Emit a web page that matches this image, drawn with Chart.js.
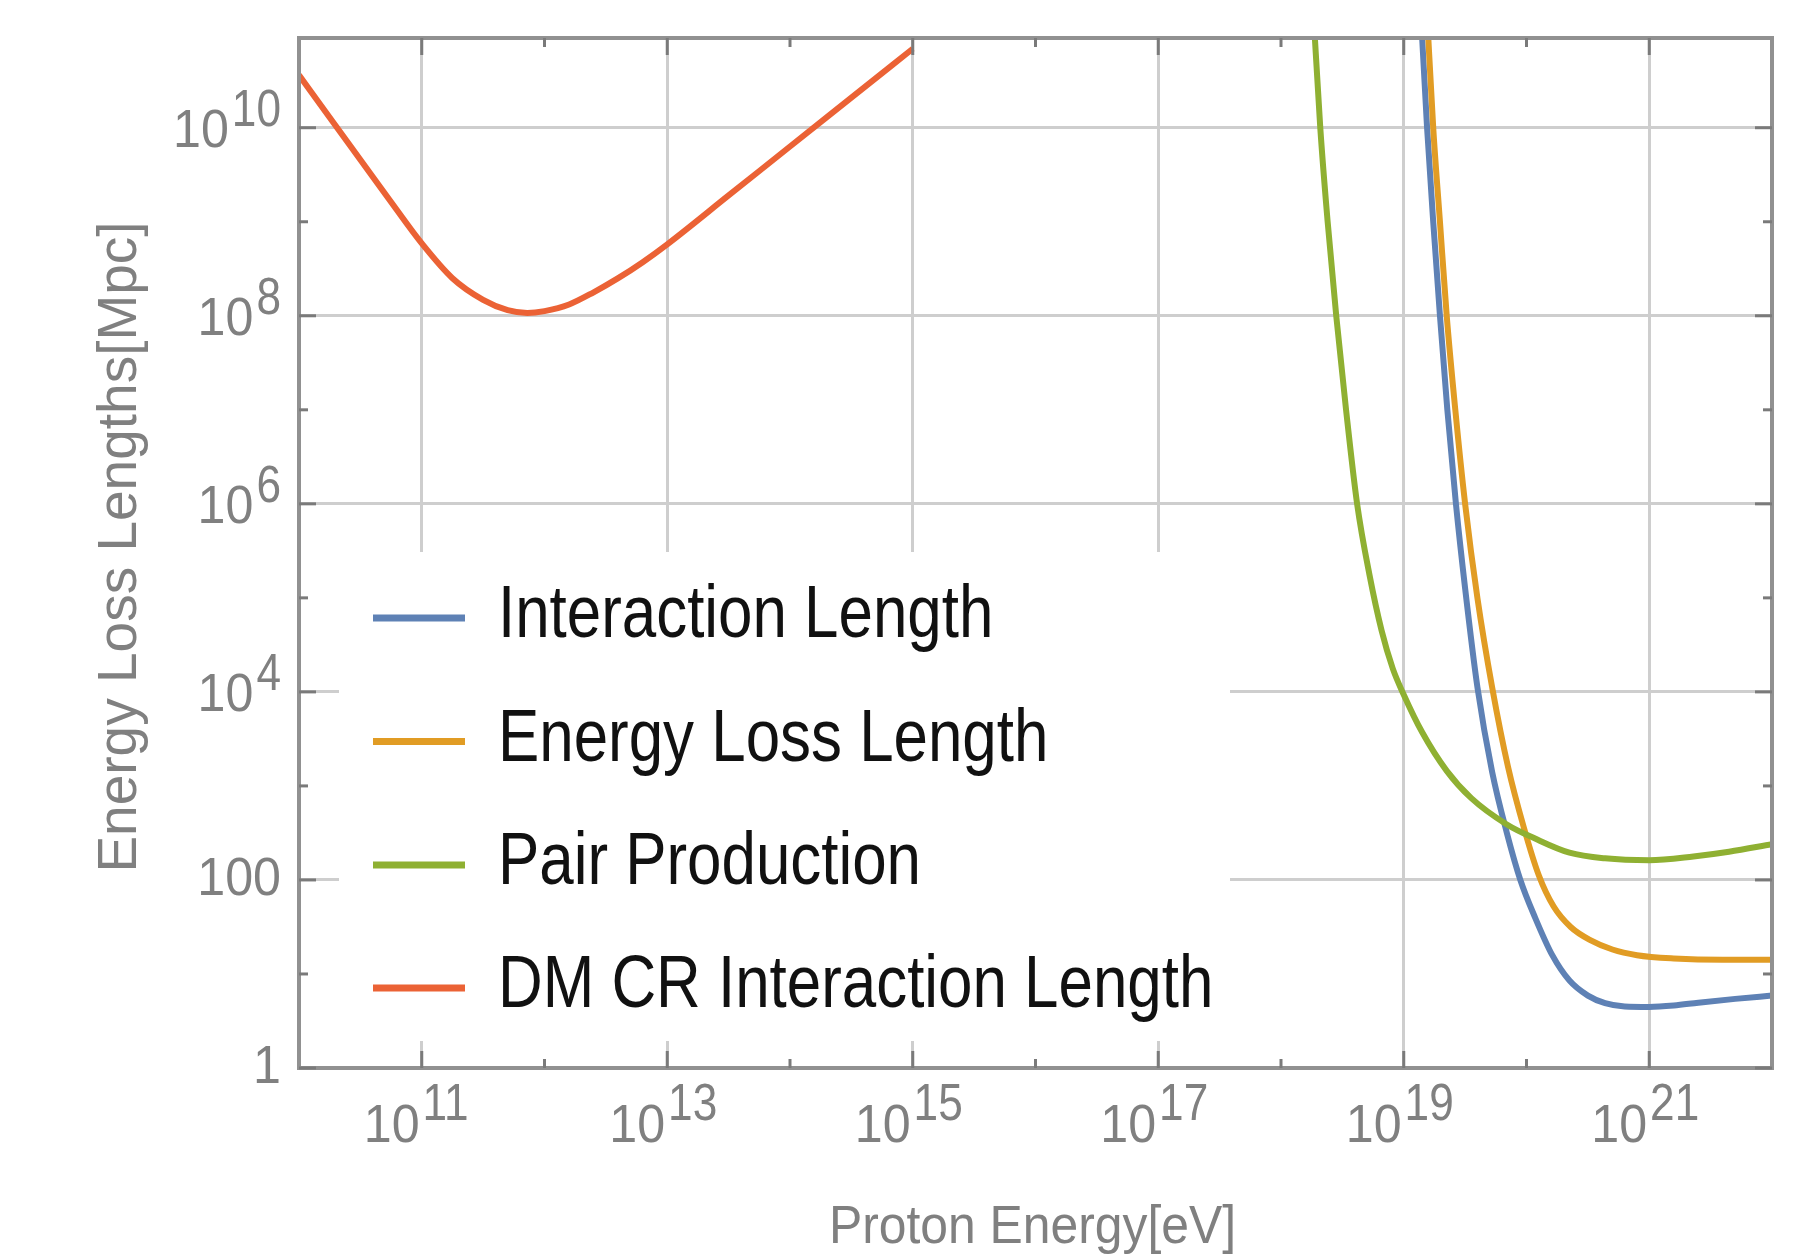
<!DOCTYPE html>
<html>
<head>
<meta charset="utf-8">
<script src="https://cdn.jsdelivr.net/npm/chart.js@4.4.1/dist/chart.umd.min.js"></script>
<style>
html,body{margin:0;padding:0;background:#ffffff;}
canvas{display:block;}
</style>
</head>
<body>
<canvas id="c" width="1806" height="1254"></canvas>
<script>
// ---------------- data ----------------
const seriesNames = ['Interaction Length', 'Energy Loss Length', 'Pair Production', 'DM CR Interaction Length'];
const seriesColors = ['#5E81B5', '#E19C24', '#8FB032', '#EB6235'];

const energyInteraction = [1.380e19, 1.549e19, 1.738e19, 1.972e19, 2.265e19, 2.661e19, 3.162e19, 3.981e19, 5.248e19, 6.918e19, 8.913e19, 1.175e20, 1.622e20, 2.239e20, 3.162e20, 4.365e20, 6.310e20, 1e21, 1.585e21, 2.512e21, 5.012e21, 1e22];
const lengthInteraction = [1.585e11, 1e10, 1e9, 1e8, 1e7, 1e6, 1.259e5, 1.122e4, 1413, 316.2, 100, 39.81, 15.85, 8.511, 5.888, 4.898, 4.519, 4.467, 4.624, 4.955, 5.433, 5.888];

const energyLoss = [1.549e19, 1.738e19, 1.972e19, 2.239e19, 2.630e19, 3.162e19, 3.981e19, 5.248e19, 7.079e19, 9.550e19, 1.259e20, 1.660e20, 2.291e20, 3.311e20, 5.012e20, 7.943e20, 1.585e21, 3.981e21, 1e22];
const lengthLoss = [1.585e11, 1e10, 1e9, 1e8, 1e7, 1e6, 1e5, 1.122e4, 1585, 354.8, 112.2, 52.48, 31.62, 22.91, 18.20, 15.85, 14.62, 14.13, 14.13];

const energyPair = [1.841e18, 2.089e18, 2.399e18, 2.818e18, 3.388e18, 4.169e18, 5.248e18, 6.607e18, 8.128e18, 1e19, 1.413e19, 2.239e19, 3.548e19, 6.918e19, 1.175e20, 2.239e20, 4.365e20, 1e21, 2.291e21, 4.467e21, 1e22];
const lengthPair = [1.585e11, 1e10, 1e9, 1e8, 1e7, 1e6, 1.778e5, 4.467e4, 1.778e4, 9333, 3715, 1445, 741.3, 389.0, 275.4, 195.0, 169.8, 162.2, 177.8, 199.5, 239.9];

const energyDM = [1e10, 1.778e10, 3.162e10, 5.623e10, 1e11, 1.778e11, 3.162e11, 5.012e11, 7.244e11, 1e12, 1.585e12, 2.512e12, 3.981e12, 6.310e12, 1e13, 3.162e13, 1e14, 3.162e14, 1e15];
const lengthDM = [3.631e10, 1.288e10, 4.571e9, 1.622e9, 5.888e8, 2.512e8, 1.479e8, 1.148e8, 1.072e8, 1.122e8, 1.318e8, 1.778e8, 2.512e8, 3.715e8, 5.754e8, 1.905e9, 6.310e9, 2.089e10, 6.918e10];

// axes
const xMin = 1e10, xMax = 1e22;
const yMin = 1, yMax = 9e10;
const xMajorTicks = [1e11, 1e13, 1e15, 1e17, 1e19, 1e21];
const xMinorTicks = [1e12, 1e14, 1e16, 1e18, 1e20];
const xTickBase = ['10', '10', '10', '10', '10', '10'];
const xTickSup = ['11', '13', '15', '17', '19', '21'];
const yMajorTicks = [1, 100, 1e4, 1e6, 1e8, 1e10];
const yMinorTicks = [10, 1e3, 1e5, 1e7, 1e9];
const yTickBase = ['1', '100', '10', '10', '10', '10'];
const yTickSup = ['', '', '4', '6', '8', '10'];
const xTitle = 'Proton Energy[eV]';
const yTitle = 'Energy Loss Lengths[Mpc]';

// ---------------- helpers ----------------
const FONT = '"Liberation Sans", Arimo, Arial, sans-serif';
const labelColor = '#808080';

function toPoints(xs, ys) { return xs.map((x, i) => ({ x: x, y: ys[i] })); }

function drawText(ctx, text, x, y, size, sx, align, color) {
  ctx.save();
  ctx.font = size + 'px ' + FONT;
  ctx.fillStyle = color;
  ctx.textBaseline = 'alphabetic';
  ctx.textAlign = 'left';
  const w = ctx.measureText(text).width * sx;
  const x0 = align === 'right' ? x - w : (align === 'center' ? x - w / 2 : x);
  ctx.translate(x0, y);
  ctx.scale(sx, 1);
  ctx.fillText(text, 0, 0);
  ctx.restore();
  return w;
}
function seg(ctx, x1, y1, x2, y2) {
  ctx.beginPath(); ctx.moveTo(x1, y1); ctx.lineTo(x2, y2); ctx.stroke();
}

const legendBox = { left: 339, top: 552, right: 1230, bottom: 1041 };

const decorPlugin = {
  id: 'decor',
  beforeDatasetsDraw(chart) {
    const ctx = chart.ctx;
    ctx.save();
    ctx.fillStyle = '#ffffff';
    ctx.fillRect(legendBox.left, legendBox.top, legendBox.right - legendBox.left, legendBox.bottom - legendBox.top);
    ctx.restore();
  },
  afterDatasetsDraw(chart) {
    const ctx = chart.ctx;
    const a = chart.chartArea;
    const xs = chart.scales.x, ys = chart.scales.y;
    ctx.save();
    // frame
    ctx.strokeStyle = '#919191';
    ctx.lineWidth = 4;
    ctx.strokeRect(a.left, a.top, a.right - a.left, a.bottom - a.top);
    // inward ticks
    ctx.strokeStyle = '#7a7a7a';
    ctx.lineWidth = 3;
    const MAJ = 17, MIN = 9;
    xMajorTicks.forEach(v => { const p = xs.getPixelForValue(v); seg(ctx, p, a.bottom, p, a.bottom - MAJ); seg(ctx, p, a.top, p, a.top + MAJ); });
    xMinorTicks.forEach(v => { const p = xs.getPixelForValue(v); seg(ctx, p, a.bottom, p, a.bottom - MIN); seg(ctx, p, a.top, p, a.top + MIN); });
    yMajorTicks.forEach(v => { const p = ys.getPixelForValue(v); seg(ctx, a.left, p, a.left + MAJ, p); seg(ctx, a.right, p, a.right - MAJ, p); });
    yMinorTicks.forEach(v => { const p = ys.getPixelForValue(v); seg(ctx, a.left, p, a.left + MIN, p); seg(ctx, a.right, p, a.right - MIN, p); });
    ctx.restore();
  },
  afterDraw(chart) {
    const ctx = chart.ctx;
    const a = chart.chartArea;
    const xs = chart.scales.x, ys = chart.scales.y;
    // x tick labels
    xMajorTicks.forEach((v, i) => {
      const p = xs.getPixelForValue(v);
      const start = p - 58;
      const bw = drawText(ctx, xTickBase[i], start, a.bottom + 74, 54, 0.93, 'left', labelColor);
      drawText(ctx, xTickSup[i], start + bw + 3, a.bottom + 52, 52, 0.85, 'left', labelColor);
    });
    // y tick labels
    const rx = a.left - 18;
    yMajorTicks.forEach((v, i) => {
      const p = ys.getPixelForValue(v);
      if (!yTickSup[i]) {
        drawText(ctx, yTickBase[i], rx, p + 15, 54, 0.93, 'right', labelColor);
      } else {
        const sw = drawText(ctx, yTickSup[i], rx, p - 2, 52, 0.85, 'right', labelColor);
        drawText(ctx, yTickBase[i], rx - sw - 3, p + 19, 54, 0.93, 'right', labelColor);
      }
    });
    // axis titles
    drawText(ctx, xTitle, (a.left + a.right) / 2 - 3, a.bottom + 175, 53, 0.94, 'center', labelColor);
    ctx.save();
    ctx.translate(136, (a.top + a.bottom) / 2 - 6);
    ctx.rotate(-Math.PI / 2);
    drawText(ctx, yTitle, 0, 0, 55, 1.0, 'center', labelColor);
    ctx.restore();
    // legend
    const rows = [618, 741.5, 865, 988];
    chart.data.datasets.forEach((ds, i) => {
      const y = rows[i];
      ctx.save();
      ctx.strokeStyle = ds.borderColor;
      ctx.lineWidth = 7;
      ctx.lineCap = 'butt';
      seg(ctx, 373, y, 465, y);
      ctx.restore();
      drawText(ctx, ds.label, 498, y + 19, 75, 0.825, 'left', '#111111');
    });
  }
};

const datasetsX = [energyInteraction, energyLoss, energyPair, energyDM];
const datasetsY = [lengthInteraction, lengthLoss, lengthPair, lengthDM];

new Chart(document.getElementById('c').getContext('2d'), {
  type: 'line',
  data: {
    datasets: seriesNames.map((name, i) => ({
      label: name,
      data: toPoints(datasetsX[i], datasetsY[i]),
      borderColor: seriesColors[i],
      backgroundColor: seriesColors[i],
      borderWidth: 6,
      pointRadius: 0,
      fill: false,
      cubicInterpolationMode: 'monotone',
      order: 4 - i
    }))
  },
  options: {
    responsive: false,
    animation: false,
    devicePixelRatio: 1,
    layout: { padding: { left: 299, top: 38, right: 34, bottom: 186 } },
    plugins: { legend: { display: false }, tooltip: { enabled: false }, title: { display: false } },
    scales: {
      x: {
        type: 'logarithmic', min: xMin, max: xMax,
        afterBuildTicks: s => { s.ticks = xMajorTicks.map(v => ({ value: v })); },
        ticks: { display: false },
        grid: { color: '#cecece', lineWidth: 3, drawTicks: false },
        border: { display: false }
      },
      y: {
        type: 'logarithmic', min: yMin, max: yMax,
        afterBuildTicks: s => { s.ticks = yMajorTicks.map(v => ({ value: v })); },
        ticks: { display: false },
        grid: { color: '#cecece', lineWidth: 3, drawTicks: false },
        border: { display: false }
      }
    }
  },
  plugins: [decorPlugin]
});
</script>
</body>
</html>
